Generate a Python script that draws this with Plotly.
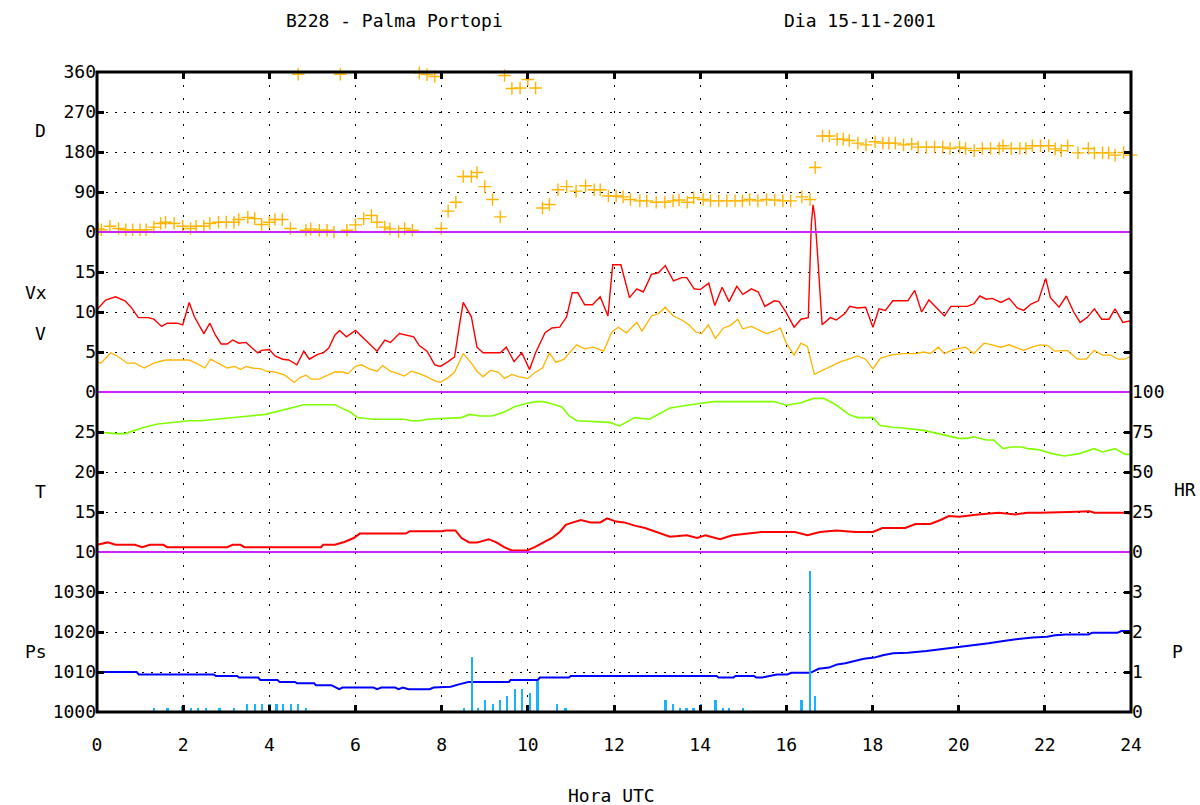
import plotly.graph_objects as go

# ---------------- data (hours UTC) ----------------
d_time = [0.03,0.1,0.3,0.5,0.67,0.83,1.0,1.14,1.32,1.48,1.59,1.79,1.99,2.17,2.3,2.48,2.62,2.82,3.0,3.18,3.29,3.5,3.66,3.82,4.0,4.13,4.3,4.49,4.67,4.85,4.96,5.16,5.34,5.5,5.65,5.8,6.0,6.19,6.37,6.5,6.68,6.8,7.0,7.14,7.32,7.48,7.66,7.84,7.99,8.15,8.33,8.5,8.69,8.82,9.0,9.18,9.36,9.46,9.63,9.82,10.0,10.18,10.34,10.5,10.7,10.9,11.12,11.34,11.54,11.68,11.87,12.05,12.21,12.38,12.6,12.76,12.98,13.18,13.37,13.51,13.7,13.85,14.07,14.24,14.43,14.62,14.81,14.98,15.15,15.34,15.54,15.73,15.92,16.1,16.36,16.55,16.67,16.84,17.0,17.18,17.32,17.46,17.66,17.85,18.06,18.24,18.38,18.53,18.72,18.91,19.06,19.25,19.44,19.63,19.8,20.02,20.16,20.36,20.55,20.74,20.94,21.03,21.22,21.42,21.56,21.71,21.9,22.09,22.24,22.38,22.53,22.77,23.01,23.15,23.34,23.48,23.63,23.83,24.0]
d_val = [7,5,13,8,5,5,5,5,11,19,22,19,13,8,13,13,19,22,22,22,28,33,30,17,22,28,28,8,355,4,7,4,4,0,355,4,16,30,37,22,11,7,1,8,4,358,354,350,8,47,67,125,125,134,102,73,34,352,323,324,343,324,54,62,95,102,92,104,95,95,81,81,79,73,70,70,67,67,70,72,67,77,73,70,70,70,70,70,73,70,73,72,70,70,79,73,145,216,216,209,209,206,200,196,203,200,200,200,196,198,191,191,191,191,188,191,188,183,188,188,188,194,188,188,188,194,194,194,187,183,194,178,188,178,178,178,173,179,173]

vx_time = [0,0.2,0.43,0.65,0.79,0.96,1.19,1.32,1.5,1.63,1.86,1.99,2.14,2.26,2.48,2.62,2.75,2.88,3.02,3.15,3.29,3.46,3.6,3.73,3.82,4.0,4.13,4.31,4.45,4.64,4.8,4.93,5.12,5.25,5.38,5.52,5.63,5.79,6.0,6.19,6.32,6.5,6.68,6.81,7.02,7.17,7.35,7.48,7.66,7.84,7.97,8.15,8.3,8.42,8.5,8.69,8.82,8.96,9.13,9.36,9.5,9.68,9.86,10.04,10.18,10.4,10.56,10.74,10.9,11.03,11.16,11.32,11.5,11.68,11.86,11.97,12.16,12.36,12.53,12.68,12.87,13.03,13.19,13.38,13.57,13.69,13.86,14.0,14.2,14.34,14.51,14.67,14.85,14.99,15.19,15.35,15.5,15.72,15.83,15.99,16.18,16.34,16.51,16.58,16.62,16.66,16.72,16.83,17.02,17.16,17.36,17.47,17.65,17.84,18.01,18.15,18.3,18.47,18.66,18.82,18.98,19.14,19.31,19.48,19.67,19.82,20.01,20.2,20.35,20.49,20.64,20.78,20.98,21.17,21.36,21.51,21.68,21.85,22.02,22.13,22.33,22.5,22.67,22.82,22.98,23.15,23.32,23.49,23.63,23.81,24.0]
vx_val = [10.3,11.5,11.9,11.4,10.6,9.3,9.3,9.1,8.2,8.6,8.6,8.4,11.2,9.4,7.3,8.6,7.1,6.0,6.0,6.5,6.1,6.2,5.5,4.9,5.2,5.3,4.5,4.1,4.0,3.4,5.1,4.1,4.7,4.9,5.5,7.1,7.7,6.9,7.7,6.7,6.0,5.1,6.5,6.2,7.3,7.1,6.9,5.8,5.1,3.4,3.2,3.8,4.4,8.6,11.2,9.4,5.6,4.9,4.9,4.9,5.6,3.8,4.9,2.8,4.9,7.4,8.0,8.1,9.4,12.4,12.4,10.9,10.9,11.9,9.5,15.9,15.9,11.8,12.9,12.5,14.7,14.9,15.8,13.9,14.3,14.3,12.9,12.8,13.6,10.8,13.1,11.3,13.2,12.2,12.9,12.5,10.7,11.4,11.3,10.0,8.1,9.1,9.3,21.0,23.4,22.0,17.6,8.4,9.3,9.0,9.8,10.7,10.5,10.6,8.1,10.4,10.2,11.4,11.4,11.4,12.7,10.0,11.5,10.5,9.5,10.7,10.7,10.7,11.0,12.0,11.6,11.7,11.2,11.7,10.5,10.2,11.0,11.4,14.2,11.8,10.6,12.0,10.0,8.7,9.3,10.4,9.1,9.1,10.4,8.7,8.9]

v_time = [0,0.09,0.32,0.47,0.7,0.88,1.1,1.32,1.59,1.77,2.13,2.3,2.5,2.64,2.82,3.02,3.2,3.33,3.46,3.6,3.82,3.91,4.13,4.36,4.58,4.71,4.85,4.98,5.16,5.34,5.52,5.7,5.83,6.0,6.14,6.32,6.5,6.63,6.81,6.99,7.13,7.3,7.48,7.66,7.84,7.97,8.15,8.3,8.5,8.69,8.82,8.96,9.13,9.31,9.46,9.63,9.8,10.0,10.16,10.34,10.5,10.65,10.84,11.13,11.32,11.52,11.76,11.95,12.1,12.29,12.53,12.65,12.87,13.03,13.19,13.38,13.57,13.74,13.9,14.03,14.19,14.35,14.54,14.7,14.87,14.99,15.19,15.38,15.54,15.72,15.86,16.0,16.18,16.34,16.49,16.65,16.83,17.07,17.26,17.45,17.65,17.84,18.01,18.18,18.42,18.71,19.0,19.19,19.34,19.53,19.67,19.87,20.16,20.35,20.59,20.78,20.98,21.17,21.36,21.51,21.7,21.89,22.07,22.23,22.52,22.76,22.96,23.15,23.34,23.53,23.7,23.86,24.0]
v_val = [3.8,3.6,4.9,4.5,3.6,3.6,3.0,3.6,4.0,4.0,4.0,3.6,3.0,4.1,3.6,3.0,3.2,2.8,3.2,3.0,2.9,2.6,2.5,2.1,1.2,1.8,2.1,1.6,1.6,2.0,2.5,2.5,2.3,3.2,3.4,2.9,2.6,3.3,2.6,2.3,2.0,2.6,2.3,1.9,1.4,1.2,1.8,2.5,4.8,3.6,2.6,1.9,2.7,2.5,1.7,2.2,1.9,1.7,2.4,3.0,4.9,3.7,4.1,5.9,5.4,5.6,5.1,7.5,8.1,7.4,8.7,7.6,9.5,9.8,10.6,9.5,9.0,8.4,7.5,7.3,8.4,6.7,8.0,8.3,9.1,7.9,8.2,7.7,7.3,7.6,8.0,6.1,4.6,6.1,5.7,2.2,2.7,3.3,3.8,4.1,4.5,4.1,2.9,4.2,4.6,4.8,4.8,5.0,4.8,5.6,4.8,5.3,5.6,4.8,6.1,5.9,5.6,5.9,5.5,5.2,5.6,5.9,5.8,5.1,5.2,4.1,4.1,5.2,4.6,4.6,4.1,4.1,4.5]

t_time = [0,0.25,0.43,0.88,1.05,1.23,1.54,1.63,3.02,3.15,3.33,3.42,5.2,5.25,5.52,5.74,5.96,6.1,7.17,7.26,8.0,8.1,8.32,8.46,8.64,8.82,8.9,9.09,9.27,9.45,9.63,9.98,10.16,10.39,10.56,10.74,10.88,11.05,11.23,11.46,11.68,11.84,12.05,12.24,12.48,12.72,13.0,13.3,13.69,13.93,14.12,14.46,14.75,15.09,15.43,16.2,16.49,16.78,17.16,17.6,18.01,18.23,18.76,19.0,19.34,19.58,19.77,20.01,20.45,20.93,21.32,21.6,21.89,22.56,23.04,23.15,23.82,24.0]
t_val = [10.9,11.2,10.9,10.9,10.6,10.9,10.9,10.6,10.6,10.9,10.9,10.6,10.6,10.9,10.9,11.25,11.75,12.3,12.3,12.6,12.6,12.7,12.7,11.75,11.2,11.2,11.3,11.6,11.2,10.6,10.2,10.2,10.6,11.25,11.75,12.5,13.4,13.7,14.0,13.7,13.7,14.2,13.8,13.7,13.3,13.0,12.5,11.9,12.1,11.75,12.1,11.6,12.1,12.3,12.5,12.5,12.1,12.5,12.7,12.5,12.5,13.0,13.0,13.5,13.5,14.0,14.5,14.4,14.7,14.9,14.7,14.9,14.9,15.0,15.1,14.9,14.9,14.8]

hr_time = [0,0.16,0.43,0.65,0.88,1.1,1.41,1.86,2.13,2.4,2.84,3.29,3.54,3.91,4.27,4.63,4.8,5.25,5.52,5.7,5.88,6.05,6.41,7.13,7.3,7.48,7.66,8.46,8.64,8.9,9.17,9.45,9.68,9.98,10.2,10.34,10.52,10.79,10.96,11.14,11.42,11.9,12.13,12.48,12.82,13.3,13.93,14.32,15.72,16.0,16.34,16.63,16.87,17.15,17.45,17.65,18.01,18.18,18.47,18.71,19.19,19.67,20.0,20.2,20.35,20.64,20.81,21.03,21.22,21.46,21.6,21.84,22.17,22.46,22.8,23.15,23.34,23.63,23.87,24.0]
hr_val = [75,74.6,74,74,76,78,80,81,82,82,83,84,85,86,88.5,90.6,92,92,92,89.6,87.5,84,83,83,82,82,83,84,86,85,85,87.5,90.6,93,94,94,93,90.6,85,82,81.7,81,78.8,84,83,90,92.7,94,94,91.7,93.3,96,96,92,86,84,84,79,78,77.5,76,73,71,71,72,70,70,64.6,65.6,65.6,64.6,64,61.5,60,61.5,64.6,62.5,64.6,61,61]

ps_time = [0,0.92,0.97,2.71,2.76,3.25,3.3,3.74,3.79,4.19,4.24,4.6,4.64,5.04,5.08,5.44,5.62,5.7,6.42,6.5,6.6,6.92,7.0,7.1,7.23,7.72,7.81,8.21,8.4,8.62,9.56,9.6,10.23,10.28,10.95,11.0,14.38,14.43,14.77,14.82,15.25,15.3,15.44,15.78,16.02,16.12,16.56,16.75,16.99,17.18,17.37,17.56,17.8,18.04,18.24,18.48,18.82,19.25,19.6,19.78,20.07,20.36,20.7,21.04,21.33,21.72,22.05,22.24,22.49,23.01,23.1,23.68,23.78,24.0]
ps_val = [1010,1010,1009.4,1009.4,1009,1009,1008.6,1008.6,1008,1008,1007.5,1007.5,1007.2,1007.2,1006.7,1006.7,1005.7,1006.1,1006.1,1005.7,1006.1,1006.1,1005.7,1006.1,1005.7,1005.7,1006.1,1006.3,1006.9,1007.5,1007.5,1008,1008,1008.6,1008.6,1009,1009,1008.6,1008.6,1009,1009,1008.6,1008.6,1009.4,1009.4,1009.8,1009.8,1010.8,1011.1,1011.9,1012.2,1012.75,1013.3,1013.6,1014.2,1014.7,1014.8,1015.25,1015.7,1016.1,1016.3,1016.7,1017.2,1017.75,1018.2,1018.6,1018.8,1019.2,1019.4,1019.4,1019.8,1019.8,1020.25,1020.25]

p_time = [1.32,1.64,1.97,2.18,2.35,2.53,2.85,3.19,3.49,3.67,3.83,4.01,4.17,4.32,4.5,4.68,4.86,8.53,8.71,8.85,9.02,9.2,9.36,9.52,9.7,9.87,10.05,10.23,10.68,10.88,13.2,13.37,13.53,13.69,13.85,14.02,14.36,14.53,14.67,15.0,16.36,16.55,16.68]
p_val = [0.1,0.1,0.15,0.1,0.1,0.1,0.1,0.1,0.2,0.2,0.2,0.2,0.2,0.2,0.2,0.2,0.1,0.1,1.38,0.1,0.3,0.2,0.3,0.4,0.58,0.58,0.48,0.78,0.2,0.1,0.3,0.2,0.1,0.1,0.1,0.2,0.3,0.1,0.1,0.1,0.3,3.52,0.4]

x_ticks = [0, 2, 4, 6, 8, 10, 12, 14, 16, 18, 20, 22, 24]
d_ticks = [0, 90, 180, 270, 360]
v_ticks = [0, 5, 10, 15]
t_ticks = [10, 15, 20, 25]
hr_ticks = [0, 25, 50, 75, 100]
ps_ticks = [1000, 1010, 1020, 1030]
p_ticks = [0, 1, 2, 3]

# ---------------- styles ----------------
FONT = "DejaVu Sans Mono"
ORANGE = "#ffb400"
RED = "#ff0000"
GREEN = "#80ff00"
BLUE = "#0000ff"
LBLUE = "#1ab2ff"
MAGENTA = "#cc22ff"

fig = go.Figure()
fig.add_trace(go.Bar(x=p_time, y=p_val, xaxis="x", yaxis="y2", width=0.04,
                     marker=dict(color=LBLUE, line=dict(width=0))))
fig.add_trace(go.Scatter(x=ps_time, y=ps_val, mode="lines", xaxis="x", yaxis="y",
                         line=dict(color=BLUE, width=2)))
fig.add_trace(go.Scatter(x=t_time, y=t_val, mode="lines", xaxis="x", yaxis="y3",
                         line=dict(color=RED, width=2)))
fig.add_trace(go.Scatter(x=hr_time, y=hr_val, mode="lines", xaxis="x", yaxis="y4",
                         line=dict(color=GREEN, width=1.6)))
fig.add_trace(go.Scatter(x=v_time, y=v_val, mode="lines", xaxis="x", yaxis="y5",
                         line=dict(color=ORANGE, width=1.3)))
fig.add_trace(go.Scatter(x=vx_time, y=vx_val, mode="lines", xaxis="x", yaxis="y5",
                         line=dict(color=RED, width=1.4)))
fig.add_trace(go.Scatter(x=d_time, y=d_val, mode="markers", xaxis="x", yaxis="y6",
                         cliponaxis=False,
                         marker=dict(symbol="cross-thin", size=9, color=ORANGE,
                                     line=dict(color=ORANGE, width=1.4))))
# invisible copy on the top axis so that its tick marks are drawn
fig.add_trace(go.Scatter(x=d_time, y=d_val, mode="markers", xaxis="x2", yaxis="y6",
                         marker=dict(size=1, opacity=0), hoverinfo="skip"))

tick_common = dict(ticks="inside", ticklen=7, tickwidth=3, tickcolor="black",
                   showline=False, zeroline=False,
                   tickfont=dict(family=FONT, size=18, color="black"))
ygrid = dict(showgrid=True, gridcolor="black", gridwidth=1.3, griddash="2px,7px")

fig.update_layout(
    width=1200, height=805,
    margin=dict(l=97, r=69, t=72, b=93),
    paper_bgcolor="white", plot_bgcolor="rgba(0,0,0,0)",
    showlegend=False, bargap=0,
    font=dict(family=FONT, size=18, color="black"),
    xaxis=dict(range=[0, 24], tickvals=x_ticks, anchor="y",
               showgrid=True, gridcolor="black", gridwidth=1.3, griddash="2px,11px",
               ticklabelstandoff=20, **tick_common),
    xaxis2=dict(range=[0, 24], tickvals=x_ticks, overlaying="x", anchor="y6", side="top",
                showticklabels=False, showgrid=False, **tick_common),
    yaxis=dict(domain=[0, 0.25], range=[1000, 1040], tickvals=ps_ticks, anchor="x",
               **ygrid, **tick_common),
    yaxis2=dict(range=[0, 4], tickvals=p_ticks, overlaying="y", side="right", anchor="x",
                showgrid=False, **tick_common),
    yaxis3=dict(domain=[0.25, 0.5], range=[10, 30], tickvals=t_ticks, anchor="x",
                **ygrid, **tick_common),
    yaxis4=dict(range=[0, 100], tickvals=hr_ticks, overlaying="y3", side="right", anchor="x",
                showgrid=False, **tick_common),
    yaxis5=dict(domain=[0.5, 1.0], range=[0, 40], tickvals=v_ticks, anchor="x",
                mirror="ticks", **ygrid, **tick_common),
    yaxis6=dict(domain=[0.75, 1.0], range=[0, 360], tickvals=d_ticks, anchor="x",
                mirror="ticks", **ygrid, **tick_common),
)

shapes = []
for yy in (0.25, 0.5, 0.75):
    shapes.append(dict(type="line", xref="paper", yref="paper", x0=0, x1=1, y0=yy, y1=yy,
                       line=dict(color=MAGENTA, width=2), layer="above"))
shapes.append(dict(type="rect", xref="paper", yref="paper", x0=0, x1=1, y0=0, y1=1,
                   line=dict(color="black", width=3), layer="above"))
fig.update_layout(shapes=shapes)

def ann(text, x, y, xanchor="center"):
    return dict(text=text, x=x, y=y, xref="paper", yref="paper", showarrow=False,
                xanchor=xanchor, yanchor="middle", font=dict(family=FONT, size=18, color="black"))

fig.update_layout(annotations=[
    ann("B228 - Palma Portopi", 0.288, 1.081),
    ann("Dia 15-11-2001", 0.738, 1.081),
    ann("Hora UTC", 0.498, -0.130),
    ann("D", -0.055, 0.909),
    ann("Vx", -0.059, 0.656),
    ann("V", -0.055, 0.592),
    ann("T", -0.055, 0.344),
    ann("Ps", -0.059, 0.094),
    ann("HR", 1.052, 0.347),
    ann("P", 1.045, 0.094),
])

fig.write_html("out.html", config={"displayModeBar": False},
               post_script="document.body.style.margin='0';document.body.style.overflow='hidden';")
